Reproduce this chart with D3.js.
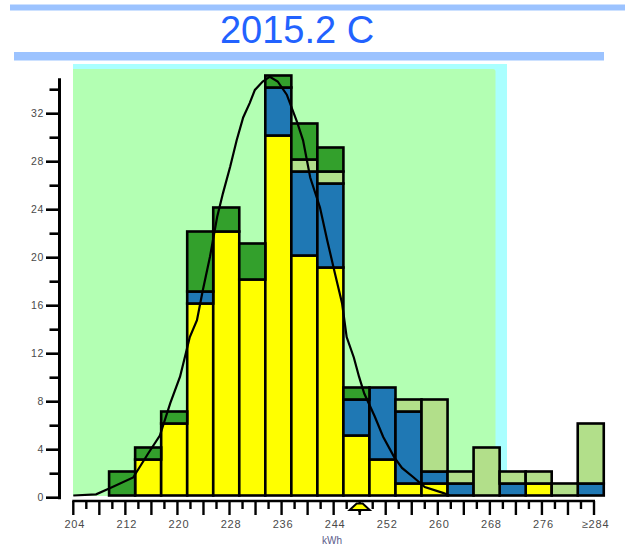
<!DOCTYPE html>
<html>
<head>
<meta charset="utf-8">
<script src="https://cdn.jsdelivr.net/npm/d3@7/dist/d3.min.js"></script>
<style>
  html, body { margin: 0; padding: 0; background: #ffffff; }
  svg { display: block; }
</style>
</head>
<body>
<div id="chart"></div>
<script>
// ---------- data ----------
const title = "2015.2 C";
const xAxisTitle = "kWh";
// lower edges of the 4-kWh bins (last one is the "≥284" overflow bin)
const binStarts = [209.5, 213.5, 217.5, 221.5, 225.5, 229.5, 233.5, 237.5, 241.5, 245.5,
                   249.5, 253.5, 257.5, 261.5, 265.5, 269.5, 273.5, 277.5, 281.5];
const binWidth = 4;
const seriesNames = ["yellow", "blue", "lightgreen", "green"];
const yellowVals     = [0, 3, 6, 16, 22, 18, 30, 20, 19, 5, 3, 1, 1, 0, 0, 0, 1, 0, 0];
const blueVals       = [0, 0, 0, 1, 0, 0, 4, 7, 7, 3, 6, 6, 1, 1, 0, 1, 0, 0, 1];
const lightGreenVals = [0, 0, 0, 0, 0, 0, 0, 1, 1, 0, 0, 1, 6, 1, 4, 1, 1, 1, 5];
const greenVals      = [2, 1, 1, 5, 2, 3, 1, 3, 2, 1, 0, 0, 0, 0, 0, 0, 0, 0, 0];
const seriesColors = ["#ffff00", "#1f78b4", "#b2df8a", "#33a02c"];

// fitted distribution curve (kWh, count)
const curveX = [204, 207.5, 209.6, 213.2, 215.5, 217.3, 218.9, 220.4, 221.9, 223.0, 223.9, 225.0,
                226.1, 227.0, 228.1, 229.1, 230.1, 231.1, 231.9, 233.1, 234.2, 235.4, 236.8,
                238.4, 239.3, 240.4, 241.9, 243.0, 244.2, 245.3, 246.0, 247.1, 247.9, 248.7,
                250.3, 251.6, 253.3, 254.5, 256.3, 258.0, 260.9, 261.8];
const curveY = [0, 0.1, 0.6, 1.5, 3.5, 5.0, 7.7, 9.9, 13.2, 14.6, 17.1, 19.9,
                23.2, 25.2, 27.4, 29.6, 31.5, 32.7, 33.8, 34.5, 34.9, 34.5, 33.4,
                31.1, 29.6, 26.5, 24.0, 21.3, 18.5, 16.0, 13.2, 11.5, 9.9, 8.5,
                6.6, 4.9, 3.2, 2.3, 1.5, 0.7, 0.2, 0];

const yTickValues = [0, 4, 8, 12, 16, 20, 24, 28, 32];
const yMinorTicks = [2, 6, 10, 14, 18, 22, 26, 30, 34];
const xLabelValues = [204, 212, 220, 228, 236, 244, 252, 260, 268, 276, 284];
const xLabels = ["204", "212", "220", "228", "236", "244", "252", "260", "268", "276", "≥284"];
const xMajorTicks = [204, 208, 212, 216, 220, 224, 228, 232, 236, 240, 244, 248, 252, 256, 260, 264, 268, 272, 276, 280, 284];
const xMinorTicks = [206, 210, 214, 218, 222, 226, 230, 234, 238, 242, 246, 250, 254, 258, 262, 266, 270, 274, 278, 282];
const markerValue = 248;
const yMax = 35;

// ---------- drawing ----------
const W = 625, H = 547;
const svg = d3.select("#chart").append("svg").attr("width", W).attr("height", H);
const font = "'Liberation Sans', Arial, sans-serif";

// decorative bars + title
svg.append("rect").attr("x", 10).attr("y", 4.5).attr("width", 615).attr("height", 6).attr("fill", "#9cc3ff");
svg.append("text").attr("x", 297).attr("y", 43)
  .attr("text-anchor", "middle").attr("font-family", font).attr("font-size", 38)
  .attr("fill", "#2262ff").text(title);
svg.append("rect").attr("x", 14).attr("y", 52).attr("width", 590).attr("height", 8.5).attr("fill", "#9cc3ff");

// scales
const x = d3.scaleLinear().domain([204, 284]).range([73.3, 594]);
const y = d3.scaleLinear().domain([0, yMax]).range([495.5, 495.5 - yMax * 12]);

// plot backgrounds
svg.append("rect").attr("x", 73).attr("y", 64).attr("width", 434).attr("height", 432).attr("fill", "#aaffff");
svg.append("path")
  .attr("d", `M73,69 H493 Q495.5,69 495.5,71.5 V496 H73 Z`)
  .attr("fill", "#b3ffb3");

// stacked bars
const table = binStarts.map((b, i) => ({
  bin: b, yellow: yellowVals[i], blue: blueVals[i], lightgreen: lightGreenVals[i], green: greenVals[i]
}));
const stacked = d3.stack().keys(seriesNames)(table);
const barG = svg.append("g");
stacked.forEach((layer, si) => {
  barG.selectAll(null)
    .data(layer.filter(d => d[1] - d[0] > 0))
    .join("rect")
    .attr("x", d => x(d.data.bin))
    .attr("width", d => x(d.data.bin + binWidth) - x(d.data.bin))
    .attr("y", d => y(d[1]))
    .attr("height", d => y(d[0]) - y(d[1]))
    .attr("fill", seriesColors[si])
    .attr("stroke", "#000")
    .attr("stroke-width", 2.6);
});

// curve
const line = d3.line().x((d, i) => x(curveX[i])).y((d, i) => y(curveY[i]));
svg.append("path").datum(curveX).attr("d", line)
  .attr("fill", "none").attr("stroke", "#000").attr("stroke-width", 2.2)
  .attr("stroke-linejoin", "miter");

// y axis (drawn 2px lower than the plot, as in the original)
const yAxisG = svg.append("g").attr("transform", "translate(0,2.2)");
yAxisG.append("line").attr("x1", 59.5).attr("x2", 59.5).attr("y1", y(yMax) + 0.6).attr("y2", y(0) + 1.5)
  .attr("stroke", "#000").attr("stroke-width", 3);
yAxisG.selectAll(".ymaj").data(yTickValues).join("line")
  .attr("x1", 46).attr("x2", 59).attr("y1", d => y(d)).attr("y2", d => y(d))
  .attr("stroke", "#000").attr("stroke-width", 2.6);
yAxisG.selectAll(".ymin").data(yMinorTicks).join("line")
  .attr("x1", 49.5).attr("x2", 59).attr("y1", d => y(d)).attr("y2", d => y(d))
  .attr("stroke", "#000").attr("stroke-width", 2.6);
yAxisG.selectAll(".ylab").data(yTickValues).join("text")
  .attr("x", 44).attr("y", d => y(d) + 3.8)
  .attr("text-anchor", "end").attr("font-family", font).attr("font-size", 10.5)
  .attr("letter-spacing", 0.6)
  .attr("fill", "#4a4a4a").text(d => d);

// x axis
const xAxisG = svg.append("g");
xAxisG.append("line").attr("x1", x(204) - 1).attr("x2", x(284) + 1).attr("y1", 501).attr("y2", 501)
  .attr("stroke", "#000").attr("stroke-width", 2.6);
xAxisG.selectAll(".xmaj").data(xMajorTicks).join("line")
  .attr("x1", d => x(d)).attr("x2", d => x(d)).attr("y1", 501).attr("y2", 515)
  .attr("stroke", "#000").attr("stroke-width", 2.4);
xAxisG.selectAll(".xmin").data(xMinorTicks).join("line")
  .attr("x1", d => x(d)).attr("x2", d => x(d)).attr("y1", 501).attr("y2", 509)
  .attr("stroke", "#000").attr("stroke-width", 2.4);
xAxisG.selectAll(".xlab").data(xLabelValues).join("text")
  .attr("x", d => x(d) + 1.5).attr("y", 528)
  .attr("text-anchor", "middle").attr("font-family", font).attr("font-size", 11)
  .attr("letter-spacing", 0.8)
  .attr("fill", "#4a4a4a").text((d, i) => xLabels[i]);
svg.append("text").attr("x", 332).attr("y", 544)
  .attr("text-anchor", "middle").attr("font-family", font).attr("font-size", 10)
  .attr("fill", "#5a5a8a").text(xAxisTitle);

// target marker on the x axis
const mx = x(markerValue);
svg.append("path")
  .attr("d", `M${mx - 10},510 L${mx - 3},503.5 L${mx + 3},503.5 L${mx + 10},510 Z`)
  .attr("fill", "#ffff00").attr("stroke", "#000").attr("stroke-width", 2);
svg.append("path")
  .attr("d", `M${mx - 2.5},510 L${mx},513.5 L${mx + 2.5},510 Z`)
  .attr("fill", "#000");
</script>
</body>
</html>
